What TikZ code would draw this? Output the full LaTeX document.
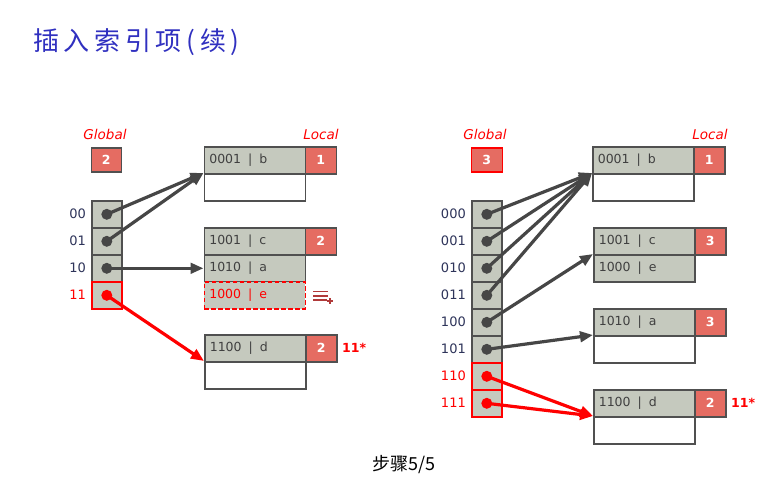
\documentclass[tikz,border=0pt]{standalone}
\usepackage{fontspec}
\setmainfont{DejaVu Sans}
\newfontfamily\cjk{Noto Sans CJK SC}
\newfontfamily\cjktitle[LetterSpace=18]{Noto Sans CJK SC}
\usetikzlibrary{arrows.meta}
\definecolor{gfill}{RGB}{197,201,190}
\definecolor{bord}{RGB}{80,80,80}
\definecolor{lred}{RGB}{229,108,98}
\definecolor{txt}{RGB}{64,64,64}
\definecolor{dlabc}{RGB}{46,52,90}
\definecolor{agray}{RGB}{70,70,70}
\definecolor{titleblue}{RGB}{48,48,192}
\definecolor{iconred}{RGB}{176,58,58}
\tikzset{
  bk/.style={draw=bord, line width=1.6pt, fill=gfill, minimum height=27pt, minimum width=101pt,
    anchor=north west, inner sep=0pt, text width=91pt, align=left, text=txt,
    font=\fontsize{12.5}{14}\selectfont},
  bkw/.style={bk, fill=white},
  loc/.style={draw=bord, line width=1.6pt, fill=lred, minimum width=31pt, minimum height=27pt,
    anchor=north west, inner sep=0pt, text=white, font=\fontsize{12.5}{14}\selectfont\bfseries},
  dir/.style={draw=bord, line width=1.6pt, fill=gfill, minimum width=30pt, minimum height=27pt,
    anchor=north west, inner sep=0pt},
  dirr/.style={dir, draw=red},
  dlab/.style={anchor=east, inner sep=0pt, text=dlabc, font=\fontsize{13}{15}\selectfont},
  dlabr/.style={dlab, text=red},
  gl/.style={text=red, inner sep=0pt, font=\fontsize{13.5}{15}\selectfont\itshape},
  star/.style={anchor=west, inner sep=0pt, text=red, font=\fontsize{12.5}{14}\selectfont\bfseries},
  arr/.style={line width=3.2pt, draw=agray, -{Triangle[length=13pt,width=10.5pt]}},
  arrr/.style={arr, draw=red},
  dotg/.style={fill=agray},
  dotr/.style={fill=red},
}
\newcommand{\bsep}{\hspace{7pt}|\hspace{7pt}}
\begin{document}
\begin{tikzpicture}[x=1pt,y=-1pt]
\useasboundingbox[fill=white] (0,0) rectangle (784,485);
% title
\node[anchor=west, inner sep=0pt, text=titleblue, font=\cjktitle\fontsize{26}{28}\selectfont] (title) at (33,42) {插入索引项(续)};
\node[inner sep=0pt, font=\cjk\fontsize{18}{20}\selectfont] (step) at (404,465) {步骤5/5};

% ===== left =====
\node[gl] (lglob) at (105,134) {Global};
\node[gl] (lloc) at (321,134) {Local};
\node[loc, minimum width=30pt, minimum height=24pt] (lg) at (90.5,147) {2};
\node[dir] (ld0) at (91,200) {};
\node[dir] (ld1) at (91,227) {};
\node[dir] (ld2) at (91,254) {};
\node[dirr] (ld3) at (91,281) {};
\node[dlab] (ll0) at (86,213.5) {00};
\node[dlab] (ll1) at (86,240.5) {01};
\node[dlab] (ll2) at (86,267.5) {10};
\node[dlabr] (ll3) at (86,294.5) {11};
% buckets
\node[bk] (la1) at (203.5,146) {0001\bsep b};
\node[bkw] (la2) at (203.5,173) {};
\node[loc] (lal) at (304.5,146) {1};
\node[bk] (lb1) at (203.5,227) {1001\bsep c};
\node[bk] (lb2) at (203.5,254) {1010\bsep a};
\node[bk, draw=red, dash pattern=on 4.5pt off 2.5pt, text=red] (lb3) at (203.5,281) {1000\bsep e};
\node[loc] (lbl) at (304.5,227) {2};
\node[bk] (lc1) at (204,334) {1100\bsep d};
\node[bkw] (lc2) at (204,361) {};
\node[loc] (lcl) at (305,334) {2};
\node[star] (lcs) at (342,348) {11*};
% icon
\coordinate (ic) at (313,291.5);
\draw[iconred, line width=1.7pt] (ic) -- ++(15,0) (ic) ++(0,4.3) -- ++(15,0) (ic) ++(0,8.6) -- ++(14,0);
\draw[iconred, line width=1.3pt] (ic) ++(14,9.5) -- ++(6,0) (ic) ++(17,6.5) -- ++(0,6);
% arrows
\draw[arr] (ld0.center) -- (la2.north west);
\draw[arr] (ld1.center) -- (la2.north west);
\draw[arr] (ld2.center) -- (lb2.west);
\draw[arrr] (ld3.center) -- (lc2.north west);
\fill[dotg] (ld0.center) circle (5.5);
\fill[dotg] (ld1.center) circle (5.5);
\fill[dotg] (ld2.center) circle (5.5);
\fill[dotr] (ld3.center) circle (5.5);

% ===== right =====
\node[gl] (rglob) at (485,134) {Global};
\node[gl] (rloc) at (710,134) {Local};
\node[loc, draw=red, minimum width=31pt, minimum height=24pt] (rg) at (470.5,147) {3};
\node[dir] (rd0) at (471,200) {};
\node[dir] (rd1) at (471,227) {};
\node[dir] (rd2) at (471,254) {};
\node[dir] (rd3) at (471,281) {};
\node[dir] (rd4) at (471,308) {};
\node[dir] (rd5) at (471,335) {};
\node[dirr] (rd6) at (471,362) {};
\node[dirr] (rd7) at (471,389) {};
\node[dlab] (rl0) at (466,213.5) {000};
\node[dlab] (rl1) at (466,240.5) {001};
\node[dlab] (rl2) at (466,267.5) {010};
\node[dlab] (rl3) at (466,294.5) {011};
\node[dlab] (rl4) at (466,321.5) {100};
\node[dlab] (rl5) at (466,348.5) {101};
\node[dlabr] (rl6) at (466,375.5) {110};
\node[dlabr] (rl7) at (466,402.5) {111};
% buckets
\node[bk] (ra1) at (592,146) {0001\bsep b};
\node[bkw] (ra2) at (592,173) {};
\node[loc] (ral) at (693,146) {1};
\node[bk] (rb1) at (593,227) {1001\bsep c};
\node[bk] (rb2) at (593,254) {1000\bsep e};
\node[loc] (rbl) at (694,227) {3};
\node[bk] (rc1) at (593,308) {1010\bsep a};
\node[bkw] (rc2) at (593,335) {};
\node[loc] (rcl) at (694,308) {3};
\node[bk] (rd1b) at (593,389) {1100\bsep d};
\node[bkw] (rd2b) at (593,416) {};
\node[loc] (rdl) at (694,389) {2};
\node[star] (rds) at (731,403) {11*};
% arrows
\draw[arr] (rd0.center) -- (ra2.north west);
\draw[arr] (rd1.center) -- (ra2.north west);
\draw[arr] (rd2.center) -- (ra2.north west);
\draw[arr] (rd3.center) -- (ra2.north west);
\draw[arr] (rd4.center) -- (rb2.north west);
\draw[arr] (rd5.center) -- (rc2.north west);
\draw[arrr] (rd6.center) -- (rd2b.north west);
\draw[arrr] (rd7.center) -- (rd2b.north west);
\foreach \i in {0,...,5} {\fill[dotg] (rd\i.center) circle (5.5);}
\fill[dotr] (rd6.center) circle (5.5);
\fill[dotr] (rd7.center) circle (5.5);
\end{tikzpicture}
\end{document}
